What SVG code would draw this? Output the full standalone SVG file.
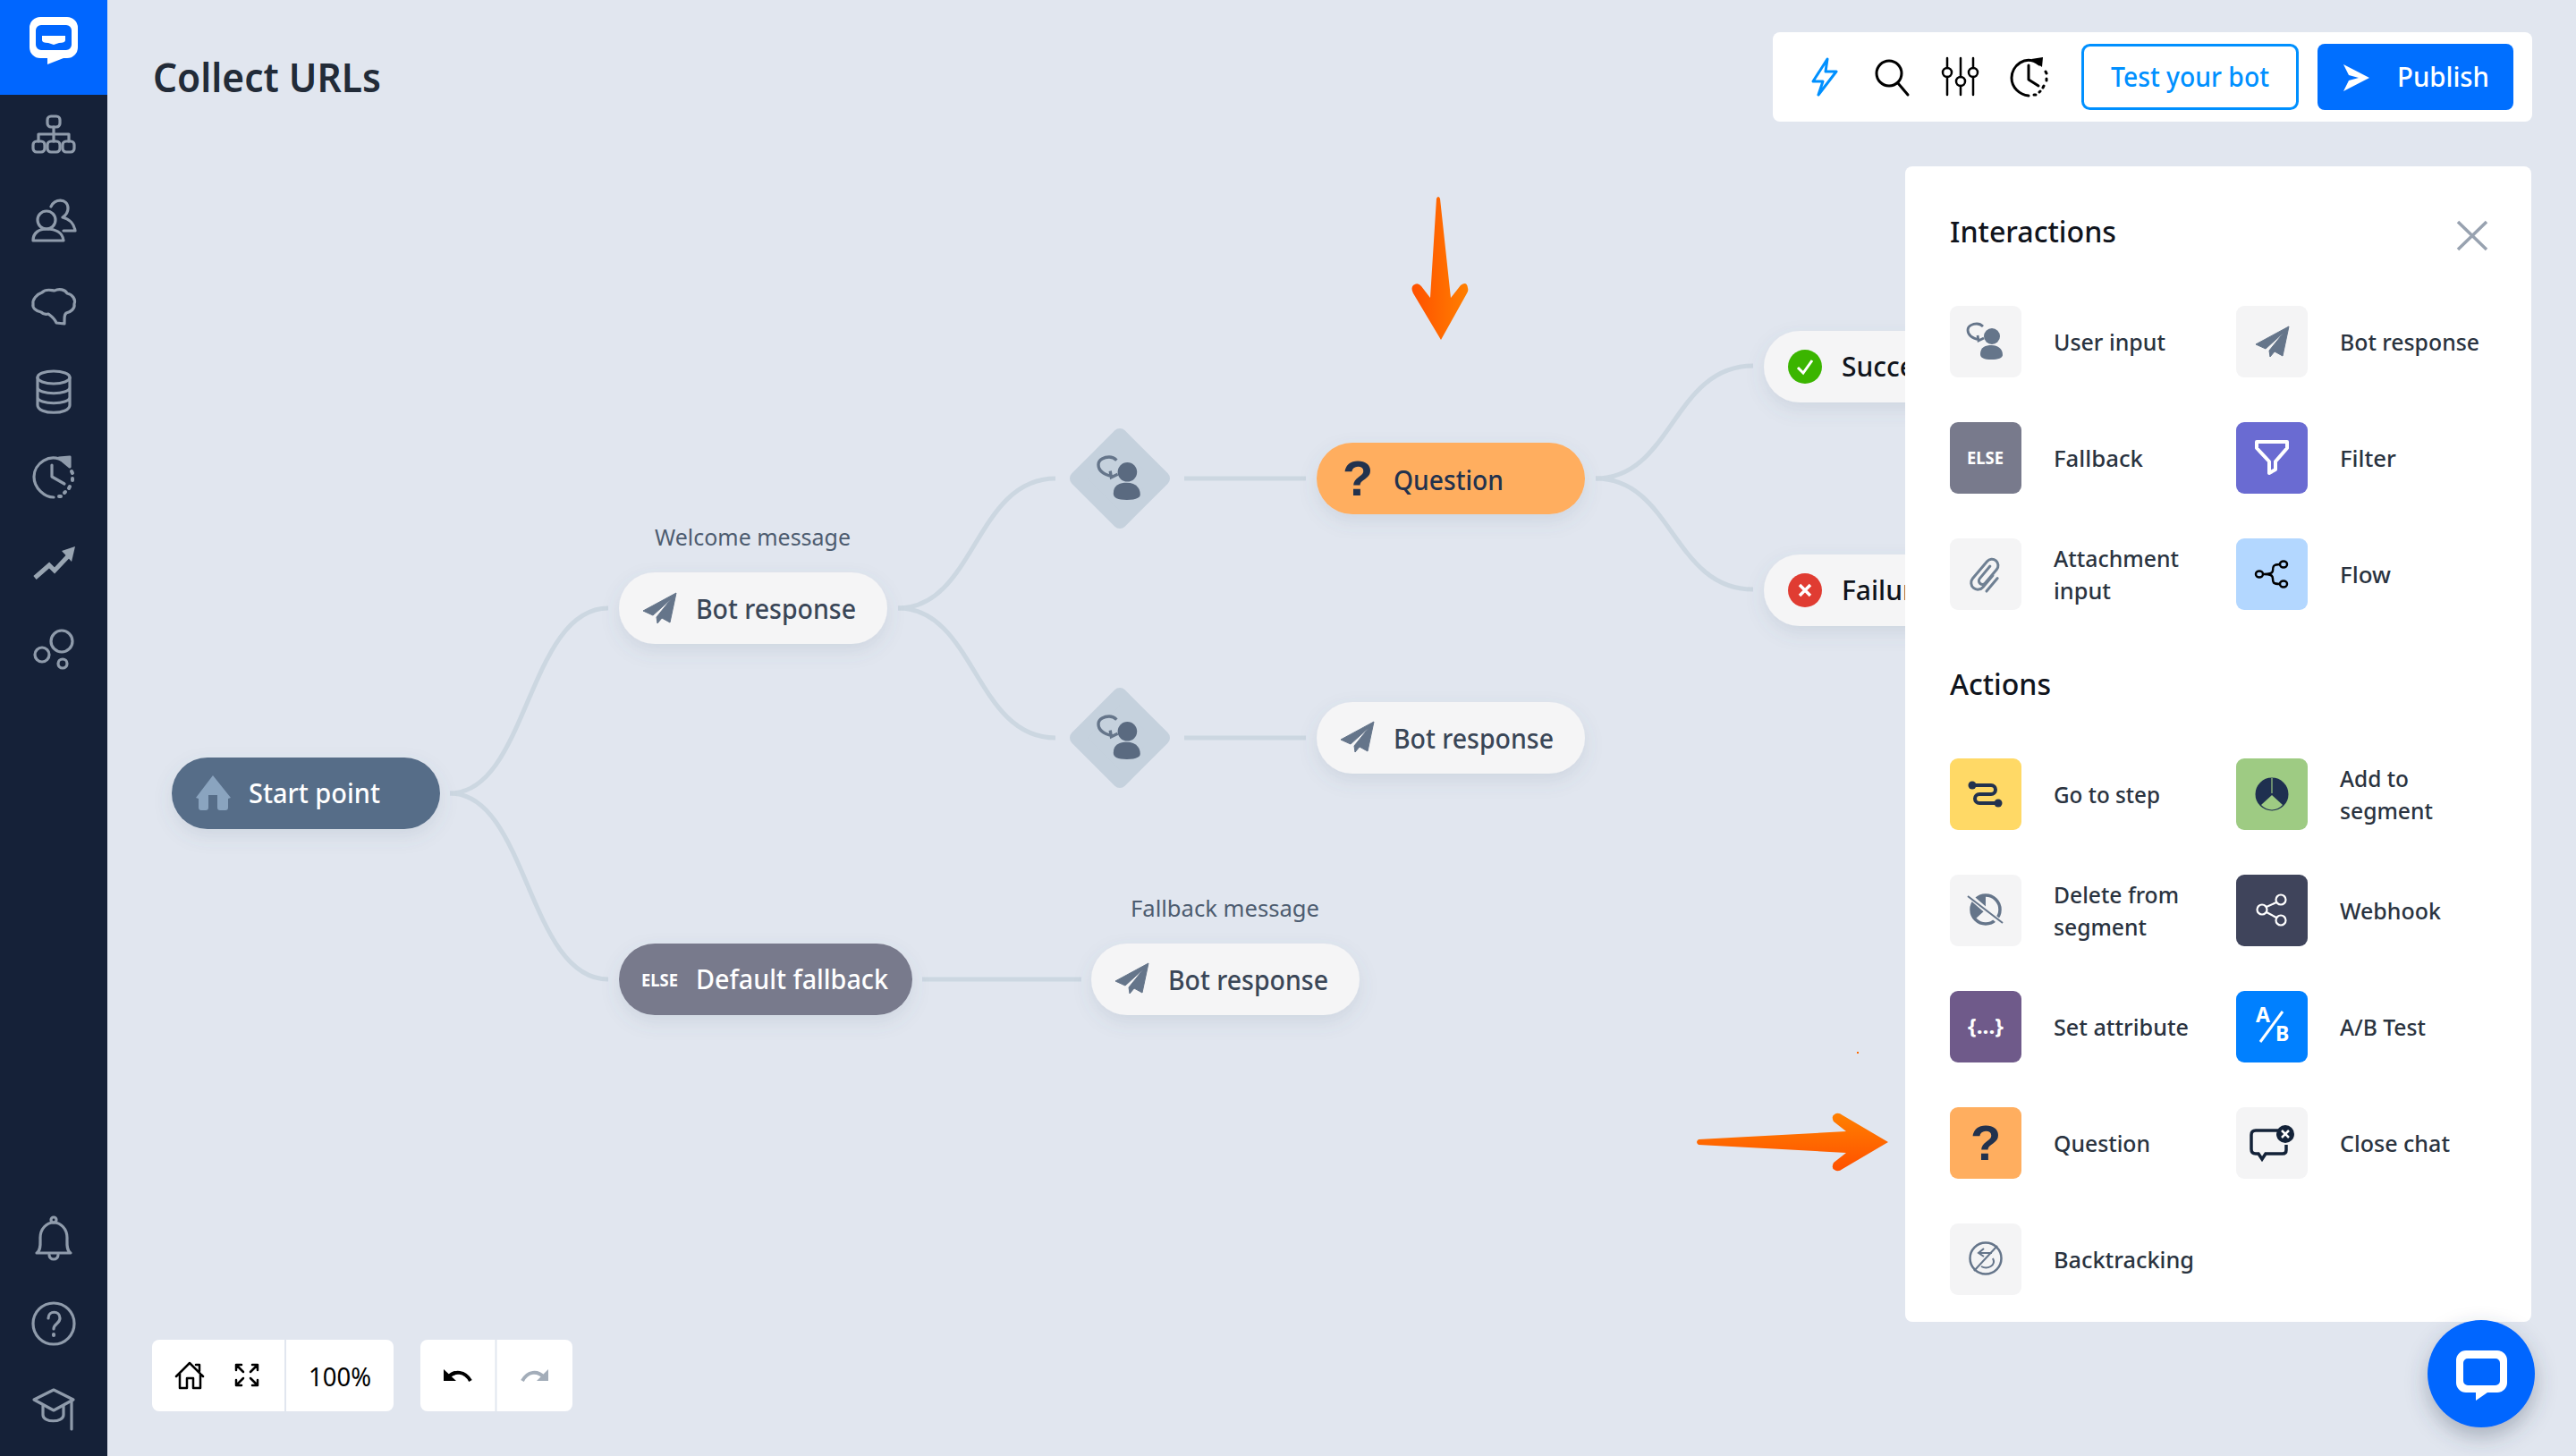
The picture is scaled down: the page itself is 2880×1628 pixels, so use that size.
<svg xmlns="http://www.w3.org/2000/svg" width="2880" height="1628" viewBox="0 0 2880 1628">
<style>
text{font-family:"Noto Sans","Open Sans","Liberation Sans",sans-serif}
.lab{font-size:26px;font-weight:500;fill:#2a3340}
.nt{font-size:30px;font-weight:500;fill:#3a4657}
.nw{font-size:30px;font-weight:500;fill:#fff}
.cap{font-size:26px;fill:#4d5c70}
.h{font-size:33px;font-weight:500;fill:#10141c}
.q{font-family:"Liberation Sans",sans-serif;font-size:56px;font-weight:700;fill:#22324e;text-anchor:middle}
.conn{fill:none;stroke:#ccd7e1;stroke-width:5}
.pill{filter:url(#sh)}
.side{fill:none;stroke:#8f9bab;stroke-width:3.2;stroke-linecap:round;stroke-linejoin:round}
.tile{fill:#f4f4f5}
.g{fill:#65758a}
.gs{fill:none;stroke:#65758a;stroke-width:2.500}
.k{fill:none;stroke:#000;stroke-width:3;stroke-linecap:round;stroke-linejoin:round}
</style>
<defs>
<filter id="sh" x="-20%" y="-40%" width="140%" height="200%"><feDropShadow dx="0" dy="8" stdDeviation="10" flood-color="#5a6a80" flood-opacity=".13"/></filter>
<filter id="sh2" x="-40%" y="-40%" width="180%" height="180%"><feDropShadow dx="0" dy="10" stdDeviation="12" flood-color="#3a4a60" flood-opacity=".35"/></filter>
<linearGradient id="gv" x1="0" y1="0" x2="0" y2="1"><stop offset="0" stop-color="#ff8000"/><stop offset="1" stop-color="#ff5000"/></linearGradient>
<linearGradient id="gh" x1="0" y1="0" x2="1" y2="0"><stop offset="0" stop-color="#ff5000"/><stop offset="1" stop-color="#ff8000"/></linearGradient>
<symbol id="plane" overflow="visible"><path d="M19 -17 L-18 3 L-7 8 L14 -11 L-3 10 L-2 17 L3 11 L12 16 Z" fill="#65758a" stroke="#65758a" stroke-linejoin="round"/></symbol>
<symbol id="user" overflow="visible">
<ellipse cx="7" cy="-6" rx="9" ry="9"/>
<path d="M-6 14C-6 6 0 4 6.500 4C14 4 19 8 19 15C19 18 14 20 6.500 20C-2 20 -6 18 -6 14Z"/>
<path d="M-7 -2C-16 -4 -20 -8 -20 -13C-20 -18 -14 -20 -10 -20C-7 -20 -5 -19 -3 -17M-9 -7L-8 -1L-2 -4" fill="none" stroke="#65758a" stroke-width="2.800"/>
</symbol>
</defs>
<rect width="2880" height="1628" fill="#e1e6ef"/>

<g id="sidebar">
<rect width="120" height="1628" fill="#152138"/>
<rect width="120" height="106" fill="#0066ff"/>
<path fill="#fff" fill-rule="evenodd" d="M45 19H75A12 12 0 0 1 87 31V53A12 12 0 0 1 75 65H71L53 72V65H45A12 12 0 0 1 33 53V31A12 12 0 0 1 45 19ZM46 28A6 6 0 0 0 40 34V50A6 6 0 0 0 46 56H74A6 6 0 0 0 80 50V34A6 6 0 0 0 74 28Z"/>
<path fill="#fff" d="M47 40H73V45Q73 48 66 48 L60 50 L54 48 Q47 48 47 45Z"/>
<g class="side">
<rect x="53" y="130" width="14" height="12" rx="4"/><rect x="37" y="158" width="13" height="12" rx="4"/><rect x="53" y="158" width="14" height="12" rx="4"/><rect x="70" y="158" width="13" height="12" rx="4"/>
<path d="M60 142V158M43 158V150H77V158"/>
<circle cx="52" cy="246" r="10"/><path d="M37 269C37 260 44 256 52 256C62 256 70 260 71 269Z"/>
<path d="M57 231C60 222 76 221 76 233C76 238 73 241 70 243C78 245 83 251 84 258H71"/>
<path d="M47 327C52 322 58 325 61 325C66 322 73 324 75 328C81 329 85 335 83 340C84 345 79 349 74 350C72 352 72 354 72 362L63 361C61 356 58 354 54 351C50 352 47 350 46 349C40 348 36 344 37 340C36 335 41 329 47 327Z"/>
<ellipse cx="60" cy="422" rx="18" ry="7"/><path d="M42 422V453C42 464 78 464 78 453V422M42 433C42 442 78 442 78 433M42 444C42 453 78 453 78 444"/>
<path d="M72 516C55 505 38 519 38 533C38 546 50 556 60 556"/><path d="M58 520V533L72 541"/><path d="M66 555 L68 555M72 551 L73 550M77 546 L78 544M81 537 L81 535M81 529 L80 527" stroke-width="4"/>
<path d="M78 522 L66 512 L78 511Z" fill="#8f9bab"/>
</g>
<path d="M39 646L55 632L61 638L76 622" fill="none" stroke="#99a5b2" stroke-width="5"/><path d="M84 611L69 616L80 628Z" fill="#99a5b2"/>
<g class="side"><circle cx="69" cy="717" r="12"/><circle cx="47" cy="732" r="8"/><circle cx="70" cy="742" r="5"/>
<path d="M41 1401C46 1398 45 1390 45 1384C45 1374 52 1367 60 1367C68 1367 75 1374 75 1384C75 1390 74 1398 79 1401Z"/><circle cx="60" cy="1364" r="3"/><path d="M55 1403A5 5 0 0 0 65 1403"/>
<ellipse cx="60" cy="1480" rx="23" ry="23"/><path d="M54 1474C54 1465 67 1465 67 1474C67 1480 60 1480 60 1486"/><path d="M60 1492V1493" stroke-width="4"/>
<path d="M38 1565L60 1554L82 1565L60 1577Z"/><path d="M48 1572V1582C48 1591 71 1591 71 1582V1572"/><path d="M80 1566V1598"/></g>
</g>

<text id="title" x="171" y="103" font-size="45" font-weight="600" fill="#222b38" textLength="255" lengthAdjust="spacingAndGlyphs">Collect URLs</text>

<g id="connectors">
<path class="conn" d="M503 887C590 887 590 680 680 680"/>
<path class="conn" d="M503 887C590 887 590 1095 680 1095"/>
<path class="conn" d="M1004 680C1090 680 1090 535 1180 535"/>
<path class="conn" d="M1004 680C1090 680 1090 825 1180 825"/>
<path class="conn" d="M1324 535H1460"/>
<path class="conn" d="M1324 825H1460"/>
<path class="conn" d="M1784 535C1870 535 1870 409 1960 409"/>
<path class="conn" d="M1784 535C1870 535 1870 659 1960 659"/>
<path class="conn" d="M1031 1095H1209"/>
</g>

<g id="node-start">
<rect class="pill" x="192" y="847" width="300" height="80" rx="40" fill="#566d88"/>
<path fill="#8aa4bf" d="M238 867L258 892L255 893V903Q255 906 252 906H246Q243 906 243 903V889H233V903Q233 906 230 906H225Q222 906 222 903V893L219 892Z"/>
<text class="nw" x="278" y="898" textLength="147" lengthAdjust="spacingAndGlyphs">Start point</text>
</g>
<g id="node-welcome">
<text class="cap" x="732" y="610" textLength="219" lengthAdjust="spacingAndGlyphs">Welcome message</text>
<rect class="pill" x="692" y="640" width="300" height="80" rx="40" fill="#f5f5f6"/>
<use href="#plane" x="737" y="680"/>
<text class="nt" x="778" y="692" textLength="179" lengthAdjust="spacingAndGlyphs">Bot response</text>
</g>
<g id="node-fallback">
<rect class="pill" x="692" y="1055" width="328" height="80" rx="40" fill="#787a8c"/>
<text x="717" y="1103" font-size="19" font-weight="700" fill="#fff" textLength="41" lengthAdjust="spacingAndGlyphs">ELSE</text>
<text class="nw" x="778" y="1106" textLength="215" lengthAdjust="spacingAndGlyphs">Default fallback</text>
</g>
<g id="node-bot-fallback">
<text class="cap" x="1264" y="1025" textLength="211" lengthAdjust="spacingAndGlyphs">Fallback message</text>
<rect class="pill" x="1220" y="1055" width="300" height="80" rx="40" fill="#f5f5f6"/>
<use href="#plane" x="1265" y="1094"/>
<text class="nt" x="1306" y="1107" textLength="179" lengthAdjust="spacingAndGlyphs">Bot response</text>
</g>
<g id="node-input1">
<path d="M1252 487L1300 535L1252 583L1204 535Z" fill="#c5d1dd" stroke="#c5d1dd" stroke-width="16" stroke-linejoin="round"/>
<use href="#user" transform="translate(1252 535) scale(1.2)" fill="#5a6a80"/>
</g>
<g id="node-input2">
<path d="M1252 777L1300 825L1252 873L1204 825Z" fill="#c5d1dd" stroke="#c5d1dd" stroke-width="16" stroke-linejoin="round"/>
<use href="#user" transform="translate(1252 825) scale(1.2)" fill="#5a6a80"/>
</g>
<g id="node-question">
<rect class="pill" x="1472" y="495" width="300" height="80" rx="40" fill="#ffae5f"/>
<text class="q" x="1518" y="554">?</text>
<text x="1558" y="548" font-size="30" font-weight="500" fill="#22324e" textLength="123" lengthAdjust="spacingAndGlyphs">Question</text>
</g>
<g id="node-bot2">
<rect class="pill" x="1472" y="785" width="300" height="80" rx="40" fill="#f5f5f6"/>
<use href="#plane" x="1517" y="824"/>
<text class="nt" x="1558" y="837" textLength="179" lengthAdjust="spacingAndGlyphs">Bot response</text>
</g>
<g id="node-success">
<rect class="pill" x="1972" y="370" width="300" height="80" rx="40" fill="#f5f5f6"/>
<circle cx="2018" cy="410" r="19" fill="#3bb500"/>
<path d="M2010 411L2016 417L2026 403" fill="none" stroke="#fff" stroke-width="3"/>
<text x="2059" y="421" font-size="30" font-weight="500" fill="#10141c">Succe</text>
</g>
<g id="node-failure">
<rect class="pill" x="1972" y="620" width="300" height="80" rx="40" fill="#f5f5f6"/>
<circle cx="2018" cy="660" r="19" fill="#e03c32"/>
<path d="M2012 654L2024 666M2024 654L2012 666" fill="none" stroke="#fff" stroke-width="3.500"/>
<text x="2059" y="671" font-size="30" font-weight="500" fill="#10141c">Failur</text>
</g>

<g id="arrow-down"><path fill="url(#gh)" d="M1606 222Q1608 218 1610 222L1622 333L1633 319Q1640 314 1641 322Q1642 325 1640 328L1611 380L1580 328Q1577 322 1580 319Q1585 315 1589 320L1599 333Z"/></g>
<g id="arrow-right"><path fill="url(#gv)" d="M1899 1274L2064 1265L2050 1254Q2047 1248 2051 1246Q2055 1243 2060 1247L2111 1277L2060 1307Q2055 1311 2051 1308Q2047 1306 2050 1300L2064 1289L1899 1280Q1895 1277 1899 1274Z"/><rect x="2076" y="1176" width="2" height="2" fill="#ff6a00"/></g>

<g id="toolbar">
<rect x="1982" y="36" width="849" height="100" rx="8" fill="#fff"/>
<path d="M2043 66L2027 91H2038L2033 106L2053 80H2041Z" fill="none" stroke="#0090ff" stroke-width="3" stroke-linejoin="round"/>
<circle cx="2112" cy="82" r="14" class="k" stroke-width="4"/><path class="k" stroke-width="4" d="M2122 93L2133 106"/>
<path class="k" style="stroke-width:2.500" d="M2177 65V76M2177 86V106M2192 65V86M2192 96V106M2206 65V76M2206 86V106"/>
<g class="k" style="stroke-width:2.500"><circle cx="2177" cy="81" r="5"/><circle cx="2192" cy="91" r="5"/><circle cx="2206" cy="81" r="5"/></g>
<path class="k" d="M2280 72C2264 60 2249 74 2249 87C2249 98 2258 106 2268 107M2268 73V89L2279 96"/>
<path class="k" d="M2274 106L2276 106M2280 103L2281 102M2284 98L2285 96M2288 90V88M2288 82L2287 80"/>
<path d="M2283 75L2271 66L2284 64Z"/>
<rect x="2328.500" y="50.500" width="240" height="71" rx="8" fill="#fff" stroke="#0090ff" stroke-width="3"/>
<text x="2360" y="97" font-size="30" font-weight="500" fill="#0090ff" textLength="177" lengthAdjust="spacingAndGlyphs">Test your bot</text>
<rect x="2591" y="49" width="219" height="74" rx="8" fill="#006fff"/>
<path d="M2620 72L2649 87L2620 102L2626 90L2637 87L2626 84Z" fill="#fff"/>
<text x="2680" y="97" font-size="30" font-weight="500" fill="#fff" textLength="103" lengthAdjust="spacingAndGlyphs">Publish</text>
</g>

<g id="panel">
<rect x="2130" y="186" width="700" height="1292" rx="8" fill="#fff"/>
<text class="h" x="2180" y="271" textLength="186" lengthAdjust="spacingAndGlyphs">Interactions</text>
<path d="M2748 248L2780 279M2780 248L2748 279" fill="none" stroke="#98a2b0" stroke-width="3.500"/>
<text class="h" x="2180" y="777" textLength="113" lengthAdjust="spacingAndGlyphs">Actions</text>

<g id="item-user-input"><rect class="tile" x="2180" y="342" width="80" height="80" rx="9"/><use href="#user" x="2220" y="382" fill="#65758a"/><text class="lab" x="2296" y="392" textLength="125" lengthAdjust="spacingAndGlyphs">User input</text></g>
<g id="item-bot-response"><rect class="tile" x="2500" y="342" width="80" height="80" rx="9"/><use href="#plane" x="2540" y="382"/><text class="lab" x="2616" y="392" textLength="156" lengthAdjust="spacingAndGlyphs">Bot response</text></g>
<g id="item-fallback"><rect x="2180" y="472" width="80" height="80" rx="9" fill="#787a8c"/><text x="2199" y="519" font-size="19" font-weight="700" fill="#fff" textLength="41" lengthAdjust="spacingAndGlyphs">ELSE</text><text class="lab" x="2296" y="522" textLength="100" lengthAdjust="spacingAndGlyphs">Fallback</text></g>
<g id="item-filter"><rect x="2500" y="472" width="80" height="80" rx="9" fill="#6a6bd2"/><path d="M2523 494H2557V501L2544 516V525L2537 529V516L2523 501Z" fill="none" stroke="#fff" stroke-width="4" stroke-linejoin="round"/><text class="lab" x="2616" y="522" textLength="63" lengthAdjust="spacingAndGlyphs">Filter</text></g>
<g id="item-attachment"><rect class="tile" x="2180" y="602" width="80" height="80" rx="9"/><path transform="translate(2220 642) rotate(40)" d="M7 -4V13A7.500 7.500 0 0 1 -8 13V-12A7 7 0 0 1 6 -12V8A2.500 2.500 0 0 1 -2 8V-10M13 -5V14" fill="none" stroke="#6f8093" stroke-width="3" stroke-linecap="round"/><text class="lab" x="2296" y="634" textLength="140" lengthAdjust="spacingAndGlyphs">Attachment</text><text class="lab" x="2296" y="670" textLength="64" lengthAdjust="spacingAndGlyphs">input</text></g>
<g id="item-flow"><rect x="2500" y="602" width="80" height="80" rx="9" fill="#b3d7ff"/><g fill="none" stroke="#000" stroke-width="2.500"><ellipse cx="2526" cy="642" rx="4" ry="3.500"/><ellipse cx="2553" cy="631" rx="4" ry="3.500"/><ellipse cx="2553" cy="653" rx="4" ry="3.500"/><path d="M2549 631C2541 631 2541 634 2541 638C2541 641 2538 642 2531 642C2538 642 2541 643 2541 647C2541 651 2541 653 2549 653"/></g><text class="lab" x="2616" y="652" textLength="57" lengthAdjust="spacingAndGlyphs">Flow</text></g>

<g id="item-goto"><rect x="2180" y="848" width="80" height="80" rx="9" fill="#ffd966"/><path d="M2205 878H2226A5 5 0 0 1 2226 888H2213A5 5 0 0 0 2213 898H2234" fill="none" stroke="#22324e" stroke-width="4"/><circle cx="2205" cy="878" r="4.500" fill="#22324e"/><circle cx="2234" cy="898" r="4.500" fill="#22324e"/><text class="lab" x="2296" y="898" textLength="119" lengthAdjust="spacingAndGlyphs">Go to step</text></g>
<g id="item-add-segment"><rect x="2500" y="848" width="80" height="80" rx="9" fill="#9ecb83"/><circle cx="2540" cy="888" r="17" fill="#1f3050" stroke="#1f3050" stroke-width="3"/><path d="M2540 889L2552 900A16 16 0 0 1 2528 900Z" fill="#9ecb83"/><path d="M2540 870V887" stroke="#9ecb83" stroke-width="1.200"/><text class="lab" x="2616" y="880" textLength="77" lengthAdjust="spacingAndGlyphs">Add to</text><text class="lab" x="2616" y="916" textLength="104" lengthAdjust="spacingAndGlyphs">segment</text></g>
<g id="item-del-segment"><rect class="tile" x="2180" y="978" width="80" height="80" rx="9"/><circle cx="2220" cy="1017" r="16" class="gs" style="stroke-width:3.500"/><path class="g" d="M2220 1017V1001A16 16 0 0 0 2204 1017Q2204 1024 2208 1028Z"/><path d="M2201 1001L2238 1033" stroke="#f4f4f5" stroke-width="6"/><path d="M2200 1002L2239 1032" stroke="#65758a" stroke-width="2"/><text class="lab" x="2296" y="1010" textLength="140" lengthAdjust="spacingAndGlyphs">Delete from</text><text class="lab" x="2296" y="1046" textLength="104" lengthAdjust="spacingAndGlyphs">segment</text></g>
<g id="item-webhook"><rect x="2500" y="978" width="80" height="80" rx="9" fill="#3f445b"/><g fill="none" stroke="#fff" stroke-width="2.200"><circle cx="2529" cy="1017" r="5.500"/><circle cx="2550" cy="1006" r="5.500"/><circle cx="2550" cy="1029" r="5.500"/><path d="M2534 1014L2545 1009M2534 1020L2545 1026"/></g><text class="lab" x="2616" y="1028" textLength="113" lengthAdjust="spacingAndGlyphs">Webhook</text></g>
<g id="item-set-attr"><rect x="2180" y="1108" width="80" height="80" rx="9" fill="#6f5a8a"/><text x="2220" y="1156" font-size="24" font-weight="700" fill="#fff" text-anchor="middle" textLength="40" lengthAdjust="spacingAndGlyphs">{...}</text><text class="lab" x="2296" y="1158" textLength="151" lengthAdjust="spacingAndGlyphs">Set attribute</text></g>
<g id="item-ab"><rect x="2500" y="1108" width="80" height="80" rx="9" fill="#0080ff"/><text x="2522" y="1143" font-size="23" font-weight="700" fill="#fff">A</text><text x="2544" y="1164" font-size="23" font-weight="700" fill="#fff">B</text><path d="M2552 1131L2527 1165" stroke="#fff" stroke-width="3"/><text class="lab" x="2616" y="1158" textLength="96" lengthAdjust="spacingAndGlyphs">A/B Test</text></g>
<g id="item-question"><rect x="2180" y="1238" width="80" height="80" rx="9" fill="#ffae5f"/><text class="q" x="2220" y="1297">?</text><text class="lab" x="2296" y="1288" textLength="108" lengthAdjust="spacingAndGlyphs">Question</text></g>
<g id="item-close"><rect class="tile" x="2500" y="1238" width="80" height="80" rx="9"/><path d="M2548 1264H2522Q2517 1264 2517 1269V1285Q2517 1290 2522 1290H2525L2529 1296L2533 1290H2552Q2556 1290 2556 1286V1280" fill="none" stroke="#132238" stroke-width="3.500"/><circle cx="2555" cy="1268" r="10" fill="#132238"/><path d="M2551 1264L2559 1272M2559 1264L2551 1272" stroke="#fff" stroke-width="2.500"/><text class="lab" x="2616" y="1288" textLength="123" lengthAdjust="spacingAndGlyphs">Close chat</text></g>
<g id="item-backtrack"><rect class="tile" x="2180" y="1368" width="80" height="80" rx="9"/><circle cx="2220" cy="1407" r="17.500" class="gs"/><path d="M2207 1421L2233 1393" class="gs" style="stroke-width:2"/><path d="M2213 1401H2227M2218 1396L2212 1401L2218 1405M2228 1407C2232 1415 2222 1420 2215 1416" class="gs" style="stroke-width:2"/><text class="lab" x="2296" y="1418" textLength="157" lengthAdjust="spacingAndGlyphs">Backtracking</text></g>
</g>

<g id="zoom-controls">
<rect x="170" y="1498" width="270" height="80" rx="8" fill="#fff"/>
<path d="M319 1498V1578" stroke="#e1e6ef" stroke-width="2"/>
<path class="k" style="stroke-width:2.500" d="M197 1539L212 1524L227 1539M201 1536V1552H209V1541H216V1552H224V1536M219 1526H223V1533"/>
<path class="k" style="stroke-width:2.500" d="M264 1526H270M264 1526V1532M264 1526L272 1534M288 1526H282M288 1526V1532M288 1526L280 1534M264 1549H270M264 1549V1543M264 1549L272 1541M288 1549H282M288 1549V1543M288 1549L280 1541"/>
<text x="345" y="1550" font-size="29" fill="#000" textLength="70" lengthAdjust="spacingAndGlyphs">100%</text>
<rect x="470" y="1498" width="170" height="80" rx="8" fill="#fff"/>
<path d="M554.500 1498V1578" stroke="#e1e6ef" stroke-width="2"/>
<path d="M496 1531V1544H510Z"/><path d="M501 1540C508 1532 520 1533 526 1544" fill="none" stroke="#000" stroke-width="4"/>
<path d="M613 1531V1544H600Z" fill="#a3adb9"/><path d="M608 1540C601 1532 590 1533 584 1544" fill="none" stroke="#a3adb9" stroke-width="4"/>
</g>

<g id="chat-button">
<circle cx="2774" cy="1536" r="60" fill="#0066ff" filter="url(#sh2)"/>
<path fill="#fff" fill-rule="evenodd" d="M2757 1510H2792A11 11 0 0 1 2803 1521V1546A11 11 0 0 1 2792 1557H2781L2768 1566V1557H2757A11 11 0 0 1 2746 1546V1521A11 11 0 0 1 2757 1510ZM2759 1519A5 5 0 0 0 2754 1524V1544A5 5 0 0 0 2759 1549H2790A5 5 0 0 0 2795 1544V1524A5 5 0 0 0 2790 1519Z"/>
</g>
</svg>
